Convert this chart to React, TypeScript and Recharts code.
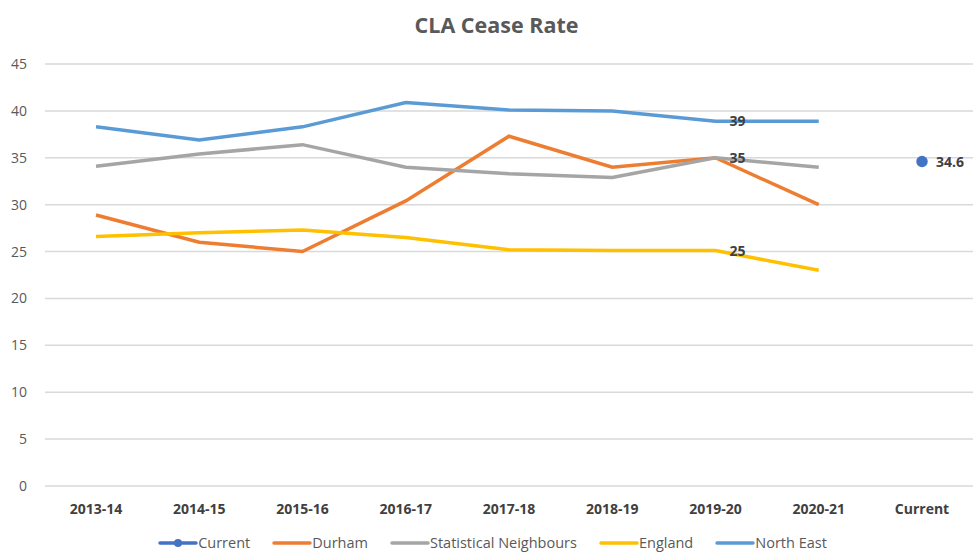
import React from "react";
import { CartesianGrid, LabelList, Legend, Line, LineChart, XAxis, YAxis } from "recharts";

const periods = ["2013-14", "2014-15", "2015-16", "2016-17", "2017-18", "2018-19", "2019-20", "2020-21", "Current"];
const durham = [28.9, 26.0, 25.0, 30.4, 37.3, 34.0, 35, 30.0, null];
const statNeighbours = [34.1, 35.4, 36.4, 34.0, 33.3, 32.9, 35, 34.0, null];
const england = [26.6, 27.0, 27.3, 26.5, 25.2, 25.1, 25.1, 23.0, null];
const northEast = [38.3, 36.9, 38.3, 40.9, 40.1, 40.0, 38.9, 38.9, null];
const current = [null, null, null, null, null, null, null, null, 34.6];
const yTicks = [0, 5, 10, 15, 20, 25, 30, 35, 40, 45];

// labels shown only at one point of each series
const labelAt: Record<string, { index: number; text: string }> = {
  northEast: { index: 6, text: "39" },
  statNeighbours: { index: 6, text: "35" },
  england: { index: 6, text: "25" },
  current: { index: 8, text: "34.6" },
};

const data = periods.map((p, i) => ({
  period: p,
  durham: durham[i],
  statNeighbours: statNeighbours[i],
  england: england[i],
  northEast: northEast[i],
  current: current[i],
}));

const legendItems = [
  { name: "Current", color: "#4472C4", dot: true },
  { name: "Durham", color: "#ED7D31" },
  { name: "Statistical Neighbours", color: "#A5A5A5" },
  { name: "England", color: "#FFC000" },
  { name: "North East", color: "#5B9BD5" },
];

const makeLabel = (key: string) => (props: any) => {
  const { x, y, index } = props;
  const l = labelAt[key];
  if (!l || index !== l.index) return null;
  return (
    <text x={x + 14} y={y} dy={5} fill="#404040" fontSize={14} fontWeight="bold">
      {l.text}
    </text>
  );
};

const CustomLegend = () => (
  <div style={{ display: "flex", justifyContent: "center", gap: 22, fontSize: 14.5, color: "#595959", paddingLeft: 4 }}>
    {legendItems.map((it) => (
      <div key={it.name} style={{ display: "flex", alignItems: "center" }}>
        <svg width={40} height={10}>
          <line x1={2} y1={5} x2={38} y2={5} stroke={it.color} strokeWidth={3.5} strokeLinecap="round" />
          {it.dot && <circle cx={20} cy={5} r={4} fill={it.color} />}
        </svg>
        <span>{it.name}</span>
      </div>
    ))}
  </div>
);

export default function App() {
  return (
    <div style={{ position: "relative", width: 973, height: 554, fontFamily: "'Open Sans', sans-serif", background: "#fff" }}>
      <style>{`body{margin:0}`}</style>
      <div
        style={{
          position: "absolute",
          top: 10,
          left: 10,
          width: 973,
          textAlign: "center",
          fontSize: 21.5,
          fontWeight: "bold",
          color: "#595959",
        }}
      >
        CLA Cease Rate
      </div>
      <LineChart width={973} height={554} data={data} margin={{ top: 64, right: 0, bottom: 9, left: 8 }}>
        <CartesianGrid vertical={false} stroke="#d9d9d9" strokeWidth={1.5} />
        <XAxis
          dataKey="period"
          axisLine={false}
          tickLine={false}
          padding={{ left: 51, right: 51 }}
          tick={{ fill: "#404040", fontSize: 14, fontWeight: "bold" }}
          tickMargin={12}
          height={40}
        />
        <YAxis
          domain={[0, 45]}
          ticks={yTicks}
          axisLine={false}
          tickLine={false}
          width={37}
          tick={{ fill: "#595959", fontSize: 14 }}
          tickMargin={12}
        />
        <Legend content={<CustomLegend />} verticalAlign="bottom" wrapperStyle={{ bottom: 2 }} />
        <Line dataKey="current" name="Current" stroke="#4472C4" strokeWidth={3.5} dot={{ r: 4, fill: "#4472C4", stroke: "#4472C4" }} isAnimationActive={false}>
          <LabelList dataKey="current" content={makeLabel("current")} />
        </Line>
        <Line dataKey="durham" name="Durham" stroke="#ED7D31" strokeWidth={3.5} dot={false} isAnimationActive={false} />
        <Line dataKey="statNeighbours" name="Statistical Neighbours" stroke="#A5A5A5" strokeWidth={3.5} dot={false} isAnimationActive={false}>
          <LabelList dataKey="statNeighbours" content={makeLabel("statNeighbours")} />
        </Line>
        <Line dataKey="england" name="England" stroke="#FFC000" strokeWidth={3.5} dot={false} isAnimationActive={false}>
          <LabelList dataKey="england" content={makeLabel("england")} />
        </Line>
        <Line dataKey="northEast" name="North East" stroke="#5B9BD5" strokeWidth={3.5} dot={false} isAnimationActive={false}>
          <LabelList dataKey="northEast" content={makeLabel("northEast")} />
        </Line>
      </LineChart>
    </div>
  );
}
